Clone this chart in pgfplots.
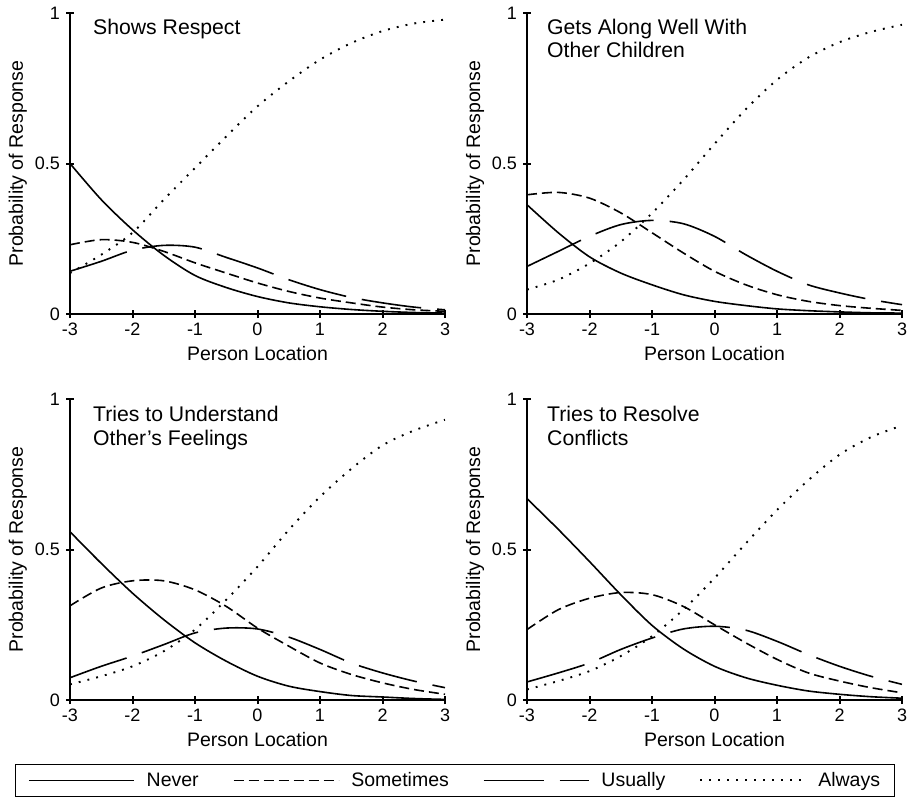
\documentclass[border=0pt]{standalone}
\usepackage{pgfplots}
\pgfplotsset{compat=1.18}
\usepackage{pgfplotstable}
\usepackage{fontspec}
\setmainfont{Liberation Sans}

\newcommand\tk{\fontsize{18}{21}\selectfont}
\newcommand\lb{\fontsize{19.5}{23}\selectfont}
\newcommand\ttl{\fontsize{21.2}{25}\selectfont}

% x, Never, Sometimes, Usually, Always
\pgfplotstableread{
x    nv     st     us     al
-3   0.500  0.230  0.142  0.136
-2.5 0.380  0.247  0.175  0.197
-2   0.280  0.238  0.212  0.270
-1.5 0.195  0.208  0.228  0.380
-1   0.128  0.170  0.222  0.485
-0.5 0.088  0.136  0.188  0.590
0    0.058  0.103  0.153  0.690
0.5  0.037  0.075  0.114  0.773
1    0.024  0.053  0.081  0.845
1.5  0.015  0.037  0.055  0.900
2    0.009  0.023  0.037  0.940
2.5  0.005  0.014  0.023  0.965
3    0.003  0.009  0.014  0.978
}\respect

\pgfplotstableread{
x    nv     st     us     al
-3   0.363  0.396  0.158  0.081
-2.5 0.270  0.404  0.208  0.114
-2   0.190  0.385  0.258  0.168
-1.5 0.136  0.336  0.297  0.240
-1   0.097  0.270  0.311  0.335
-0.5 0.064  0.203  0.300  0.445
0    0.042  0.142  0.258  0.565
0.5  0.028  0.097  0.197  0.680
1    0.017  0.064  0.142  0.778
1.5  0.011  0.042  0.097  0.852
2    0.007  0.028  0.070  0.903
2.5  0.004  0.019  0.048  0.937
3    0.003  0.012  0.031  0.961
}\along

\pgfplotstableread{
x    nv     st     us     al
-3   0.559  0.313  0.074  0.052
-2.5 0.454  0.372  0.112  0.079
-2   0.355  0.396  0.146  0.112
-1.5 0.267  0.396  0.184  0.162
-1   0.190  0.366  0.223  0.234
-0.5 0.129  0.311  0.239  0.333
0    0.079  0.239  0.236  0.443
0.5  0.046  0.179  0.209  0.565
1    0.028  0.123  0.168  0.675
1.5  0.015  0.085  0.123  0.768
2    0.010  0.057  0.090  0.846
2.5  0.005  0.035  0.063  0.895
3    0.002  0.019  0.041  0.931
}\feelings

\pgfplotstableread{
x    nv     st     us     al
-3   0.669  0.234  0.060  0.035
-2.5 0.567  0.300  0.090  0.063
-2   0.460  0.338  0.123  0.096
-1.5 0.350  0.357  0.168  0.146
-1   0.248  0.350  0.206  0.212
-0.5 0.170  0.311  0.236  0.300
0    0.112  0.250  0.245  0.405
0.5  0.074  0.190  0.232  0.520
1    0.049  0.135  0.195  0.631
1.5  0.030  0.090  0.151  0.730
2    0.019  0.063  0.112  0.815
2.5  0.011  0.041  0.079  0.873
3    0.006  0.024  0.052  0.912
}\conflicts

\tikzset{ttl/.style={font=\ttl, anchor=base west, inner sep=0pt}}

\pgfplotsset{
  panel/.style={
    width=375pt, height=301pt, scale only axis,
    xmin=-3, xmax=3, ymin=0, ymax=1,
    axis lines=left, axis line style={line width=2.4pt, -},
    xtick={-3,-2,-1,0,1,2,3}, xticklabels={-3,-2,-1,0,1,2,3},
    ytick={0,0.5,1}, yticklabels={0,0.5,1},
    tick align=center, major tick length=8pt,
    tick style={line width=2pt, black},
    tick label style={font=\tk},
    xticklabel style={anchor=north, inner sep=0pt, yshift=-5pt},
    yticklabel style={anchor=east, inner sep=0pt, xshift=-6pt},
    xlabel={Person Location}, ylabel={Probability of Response},
    label style={font=\lb},
    xlabel style={at={(axis description cs:0.5,0)}, anchor=base, yshift=-46pt},
    ylabel style={at={([xshift=-47pt]axis description cs:0,0.5)}, anchor=base},
  },
  nv/.style={black, line width=1.6pt, smooth},
  st/.style={black, line width=1.6pt, smooth, dash pattern=on 10pt off 5pt},
  us/.style={black, line width=1.6pt, smooth, dash pattern=on 60pt off 16pt},
  al/.style={black, line width=1.9pt, smooth, dash pattern=on 1.9pt off 7.1pt},
}

\newcommand\curves[1]{%
  \addplot[nv] table[x=x,y=nv] {#1};
  \addplot[st] table[x=x,y=st] {#1};
  \addplot[us] table[x=x,y=us] {#1};
  \addplot[al] table[x=x,y=al] {#1};
}

\begin{document}
\begin{tikzpicture}
\path[use as bounding box] (0pt,0pt) rectangle (912pt,-800pt);

\begin{axis}[panel, at={(70pt,-314pt)}, anchor=south west]
\curves{\respect}
\node[ttl] at ([xshift=23pt,yshift=-21pt]rel axis cs:0,1) {Shows Respect};
\end{axis}

\begin{axis}[panel, at={(527pt,-314pt)}, anchor=south west]
\curves{\along}
\node[ttl] at ([xshift=20pt,yshift=-21pt]rel axis cs:0,1) {Gets Along Well With};
\node[ttl] at ([xshift=20pt,yshift=-44pt]rel axis cs:0,1) {Other Children};
\end{axis}

\begin{axis}[panel, at={(70pt,-700pt)}, anchor=south west]
\curves{\feelings}
\node[ttl] at ([xshift=23pt,yshift=-22pt]rel axis cs:0,1) {Tries to Understand};
\node[ttl] at ([xshift=23pt,yshift=-46pt]rel axis cs:0,1) {Other’s Feelings};
\end{axis}

\begin{axis}[panel, at={(527pt,-700pt)}, anchor=south west,
  legend columns=4,
  legend image code/.code={\draw[#1] (0pt,0pt) -- (105pt,0pt);},
  legend style={at={(axis description cs:-1.3653,-0.2126)}, anchor=north west,
    draw=black, line width=1.2pt, font=\lb, inner xsep=12.5pt, inner ysep=6pt,
    /tikz/every odd column/.append style={column sep=10pt},
    /tikz/every even column/.append style={column sep=32pt}}]
\curves{\conflicts}
\node[ttl] at ([xshift=20pt,yshift=-22pt]rel axis cs:0,1) {Tries to Resolve};
\node[ttl] at ([xshift=20pt,yshift=-46pt]rel axis cs:0,1) {Conflicts};
\addlegendimage{black, line width=1.6pt}
\addlegendentry{Never}
\addlegendimage{black, line width=1.6pt, dash pattern=on 7pt off 6pt}
\addlegendentry{Sometimes}
\addlegendimage{black, line width=1.6pt, dash pattern=on 44pt off 16pt}
\addlegendentry{Usually}
\addlegendimage{black, line width=1.6pt, dash pattern=on 1.6pt off 6.4pt}
\addlegendentry{Always}
\end{axis}
\end{tikzpicture}
\end{document}
